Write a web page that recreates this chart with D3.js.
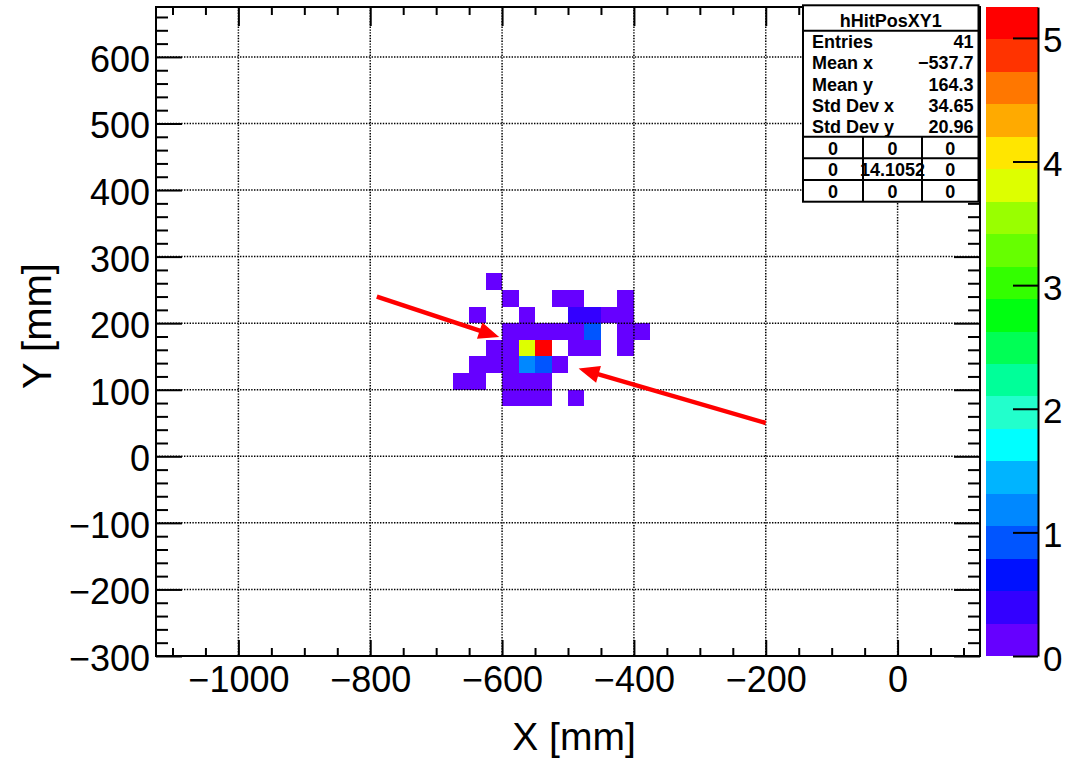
<!DOCTYPE html>
<html>
<head>
<meta charset="utf-8">
<script src="https://cdnjs.cloudflare.com/ajax/libs/d3/7.8.5/d3.min.js"></script>
<style>
  body { margin: 0; background: #fff; }
  text { font-family: "Liberation Sans", Arial, Helvetica, sans-serif; }
</style>
</head>
<body>
<script>
// step 0: data
// filled bins of hHitPosXY1, lower bin edges in mm (bin width 25 mm), bin content
var binX = [-625,
    -600, -525, -500, -425,
    -650, -575, -500, -475, -450, -425,
    -600, -575, -550, -525, -500, -475, -425, -400,
    -625, -600, -575, -550, -500, -475, -425,
    -650, -625, -600, -575, -550, -525,
    -675, -650, -600, -575, -550,
    -600, -575, -550, -500];
var binY = [250,
    225, 225, 225, 225,
    200, 200, 200, 200, 200, 200,
    175, 175, 175, 175, 175, 175, 175, 175,
    150, 150, 150, 150, 150, 150, 150,
    125, 125, 125, 125, 125, 125,
    100, 100, 100, 100, 100,
    75, 75, 75, 75];
var binVal = [0.04,
    0.04, 0.04, 0.04, 0.04,
    0.04, 0.04, 0.4, 0.4, 0.04, 0.04,
    0.04, 0.04, 0.04, 0.04, 0.04, 0.95, 0.04, 0.04,
    0.04, 0.04, 3.8, 5.0, 0.04, 0.04, 0.04,
    0.04, 0.04, 0.04, 1.2, 0.9, 0.04,
    0.04, 0.04, 0.04, 0.04, 0.04,
    0.04, 0.04, 0.04, 0.04];

var xTicks = [-1000, -800, -600, -400, -200, 0];
var yTicks = [-300, -200, -100, 0, 100, 200, 300, 400, 500, 600];
var zTicks = [0, 1, 2, 3, 4, 5];

// ROOT style rainbow palette, 20 contours (bottom -> top)
var palette = ["#6600ff", "#3300ff", "#0011ff", "#0055ff", "#0088ff",
    "#00b4ff", "#00ffff", "#22ffcc", "#00ff99", "#00ff55",
    "#00ff11", "#33ff00", "#66ff00", "#99ff00", "#ddff00",
    "#ffe600", "#ffaa00", "#ff7700", "#ff3300", "#ff0000"];

var statTitle = "hHitPosXY1";
var statNames = ["Entries", "Mean x", "Mean y", "Std Dev x", "Std Dev y"];
var statValues = ["41", "\u2212537.7", "164.3", "34.65", "20.96"];
var cornerRows = [["0", "0", "0"], ["0", "14.1052", "0"], ["0", "0", "0"]];

// the two red arrows (mm)
var arrowX1 = [-790, -200];
var arrowY1 = [240, 50];
var arrowX2 = [-607, -481];
var arrowY2 = [180, 131];

// step 1: set up chart
var svgWidth = 1066;
var svgHeight = 759;

var margin = {
    top: 7,
    right: 86,
    bottom: 103,
    left: 156
};

var width = svgWidth - margin.left - margin.right;
var height = svgHeight - margin.top - margin.bottom;

var svg = d3.select("body")
    .append("svg")
    .attr("width", svgWidth)
    .attr("height", svgHeight);

var chartGroup = svg.append("g")
    .attr("transform", `translate(${margin.left}, ${margin.top})`);

// step 2: scales
var xScale = d3.scaleLinear().domain([-1125, 125]).range([0, width]);
var yScale = d3.scaleLinear().domain([-300, 675]).range([height, 0]);
var zMax = 5.25;
var zColor = d3.scaleQuantize().domain([0, zMax]).range(palette);

var minus = function(d) { return d < 0 ? "\u2212" + Math.abs(d) : "" + d; };

// step 3: the bins
var binW = 25;
chartGroup.selectAll("rect.bin")
    .data(binVal)
    .enter()
    .append("rect")
    .attr("class", "bin")
    .attr("x", (d, i) => xScale(binX[i]))
    .attr("y", (d, i) => yScale(binY[i] + binW))
    .attr("width", (d, i) => xScale(binX[i] + binW) - xScale(binX[i]))
    .attr("height", (d, i) => yScale(binY[i]) - yScale(binY[i] + binW))
    .attr("fill", d => zColor(d))
    .attr("shape-rendering", "crispEdges");

// dotted grid on top of bins
var grid = chartGroup.append("g")
    .attr("stroke", "#000")
    .attr("stroke-width", 1.5)
    .attr("stroke-dasharray", "1.4,1.4");
grid.selectAll("line.gx")
    .data(xTicks)
    .enter()
    .append("line")
    .attr("x1", d => xScale(d)).attr("x2", d => xScale(d))
    .attr("y1", 0).attr("y2", height);
grid.selectAll("line.gy")
    .data(yTicks)
    .enter()
    .append("line")
    .attr("y1", d => yScale(d)).attr("y2", d => yScale(d))
    .attr("x1", 0).attr("x2", width);

// step 4: axes (ticks inside the frame on all four sides)
var xMinor = d3.range(-1100, 125, 50).filter(d => xTicks.indexOf(d) < 0);
var yMinor = d3.range(-300, 676, 20).filter(d => yTicks.indexOf(d) < 0);

function styleAxis(g) {
    g.select(".domain").remove();
    g.selectAll(".tick line").attr("stroke", "#000").attr("stroke-width", 2);
    g.selectAll(".tick text")
        .attr("fill", "#000")
        .style("font-size", "36px");
}

chartGroup.append("g")
    .attr("transform", `translate(0, ${height})`)
    .call(d3.axisBottom(xScale).tickValues(xTicks).tickSizeInner(-16).tickSizeOuter(0).tickPadding(10).tickFormat(minus))
    .call(styleAxis);
chartGroup.append("g")
    .attr("transform", `translate(0, ${height})`)
    .call(d3.axisBottom(xScale).tickValues(xMinor).tickSizeInner(-8).tickSizeOuter(0).tickFormat(""))
    .call(styleAxis);
chartGroup.append("g")
    .call(d3.axisTop(xScale).tickValues(xTicks).tickSizeInner(-19).tickSizeOuter(0).tickFormat(""))
    .call(styleAxis);
chartGroup.append("g")
    .call(d3.axisTop(xScale).tickValues(xMinor).tickSizeInner(-8).tickSizeOuter(0).tickFormat(""))
    .call(styleAxis);

var leftAxis = chartGroup.append("g")
    .call(d3.axisLeft(yScale).tickValues(yTicks).tickSizeInner(-26).tickSizeOuter(0).tickPadding(6).tickFormat(minus))
    .call(styleAxis);
leftAxis.selectAll(".tick text").attr("dy", "0.4em");
chartGroup.append("g")
    .call(d3.axisLeft(yScale).tickValues(yMinor).tickSizeInner(-12).tickSizeOuter(0).tickFormat(""))
    .call(styleAxis);
chartGroup.append("g")
    .attr("transform", `translate(${width}, 0)`)
    .call(d3.axisRight(yScale).tickValues(yTicks).tickSizeInner(-26).tickSizeOuter(0).tickFormat(""))
    .call(styleAxis);
chartGroup.append("g")
    .attr("transform", `translate(${width}, 0)`)
    .call(d3.axisRight(yScale).tickValues(yMinor).tickSizeInner(-12).tickSizeOuter(0).tickFormat(""))
    .call(styleAxis);

// frame
chartGroup.append("rect")
    .attr("width", width)
    .attr("height", height)
    .attr("fill", "none")
    .attr("stroke", "#000")
    .attr("stroke-width", 2);

// axis titles
svg.append("text")
    .attr("x", 574)
    .attr("y", 750)
    .attr("text-anchor", "middle")
    .style("font-size", "39px")
    .text("X [mm]");

svg.append("text")
    .attr("transform", "translate(51, 326) rotate(-90)")
    .attr("text-anchor", "middle")
    .style("font-size", "40px")
    .text("Y [mm]");

// step 5: arrows
var arrowGroup = chartGroup.append("g");
arrowX1.forEach(function(x1, i) {
    var ax = xScale(x1), ay = yScale(arrowY1[i]);
    var bx = xScale(arrowX2[i]), by = yScale(arrowY2[i]);
    var ang = Math.atan2(by - ay, bx - ax);
    var headLen = 18, headHalf = 7.5;
    var baseX = bx - headLen * Math.cos(ang), baseY = by - headLen * Math.sin(ang);
    arrowGroup.append("line")
        .attr("x1", ax).attr("y1", ay)
        .attr("x2", baseX).attr("y2", baseY)
        .attr("stroke", "#ff0000")
        .attr("stroke-width", 4.5);
    var pts = [
        [bx, by],
        [baseX + headHalf * Math.sin(ang), baseY - headHalf * Math.cos(ang)],
        [baseX - headHalf * Math.sin(ang), baseY + headHalf * Math.cos(ang)]
    ];
    arrowGroup.append("polygon")
        .attr("points", pts.map(p => p.join(",")).join(" "))
        .attr("fill", "#ff0000")
        .attr("stroke", "#ff0000")
        .attr("stroke-width", 1.5);
});

// step 6: colour bar
var zScale = d3.scaleLinear().domain([0, zMax]).range([height, 0]);
var barX = 986 - margin.left;
var barW = 52;
var step = zMax / palette.length;
var barGroup = chartGroup.append("g").attr("transform", `translate(${barX}, 0)`);

barGroup.selectAll("rect")
    .data(palette)
    .enter()
    .append("rect")
    .attr("x", 0)
    .attr("width", barW)
    .attr("y", (d, i) => zScale((i + 1) * step))
    .attr("height", (d, i) => zScale(i * step) - zScale((i + 1) * step))
    .attr("fill", d => d)
    .attr("shape-rendering", "crispEdges");

var zAxis = barGroup.append("g")
    .attr("transform", `translate(${barW}, 0)`)
    .call(d3.axisRight(zScale).tickValues(zTicks).tickSizeInner(-25).tickSizeOuter(0).tickPadding(5).tickFormat(d3.format("d")));
zAxis.select(".domain").attr("stroke", "#000").attr("stroke-width", 2);
zAxis.selectAll(".tick line").attr("stroke", "#000").attr("stroke-width", 2);
zAxis.selectAll(".tick text").attr("fill", "#000").attr("dy", "0.4em").style("font-size", "35px");

// step 7: stats box
var box = { x: 803, y: 5.3, w: 175.5, titleH: 25.4, rowH: 21.3, statH: 106, cellH: 21.67 };
var statGroup = svg.append("g");
var tableTop = box.y + box.titleH + box.statH;
var boxBottom = tableTop + 3 * box.cellH;

statGroup.append("rect")
    .attr("x", box.x).attr("y", box.y)
    .attr("width", box.w).attr("height", boxBottom - box.y)
    .attr("fill", "#fff")
    .attr("stroke", "#000")
    .attr("stroke-width", 2);

statGroup.append("line")
    .attr("x1", box.x).attr("x2", box.x + box.w)
    .attr("y1", box.y + box.titleH).attr("y2", box.y + box.titleH)
    .attr("stroke", "#000").attr("stroke-width", 2);

statGroup.append("text")
    .attr("x", box.x + box.w / 2)
    .attr("y", 26.5)
    .attr("text-anchor", "middle")
    .style("font-size", "18px")
    .style("font-weight", "bold")
    .text(statTitle);

statNames.forEach(function(name, i) {
    var yy = 48 + i * box.rowH;
    statGroup.append("text")
        .attr("x", box.x + 9).attr("y", yy)
        .style("font-size", "18px").style("font-weight", "bold")
        .text(name);
    statGroup.append("text")
        .attr("x", box.x + box.w - 5).attr("y", yy)
        .attr("text-anchor", "end")
        .style("font-size", "18px").style("font-weight", "bold")
        .text(statValues[i]);
});

var colEdges = [box.x, 863, 922, box.x + box.w];
cornerRows.forEach(function(row, r) {
    var top = tableTop + r * box.cellH;
    statGroup.append("line")
        .attr("x1", box.x).attr("x2", box.x + box.w)
        .attr("y1", top).attr("y2", top)
        .attr("stroke", "#000").attr("stroke-width", 2);
    row.forEach(function(v, c) {
        statGroup.append("text")
            .attr("x", (colEdges[c] + colEdges[c + 1]) / 2)
            .attr("y", top + 18)
            .attr("text-anchor", "middle")
            .style("font-size", "18px").style("font-weight", "bold")
            .text(v);
    });
});
[1, 2].forEach(function(c) {
    statGroup.append("line")
        .attr("x1", colEdges[c]).attr("x2", colEdges[c])
        .attr("y1", tableTop).attr("y2", boxBottom)
        .attr("stroke", "#000").attr("stroke-width", 2);
});
</script>
</body>
</html>
